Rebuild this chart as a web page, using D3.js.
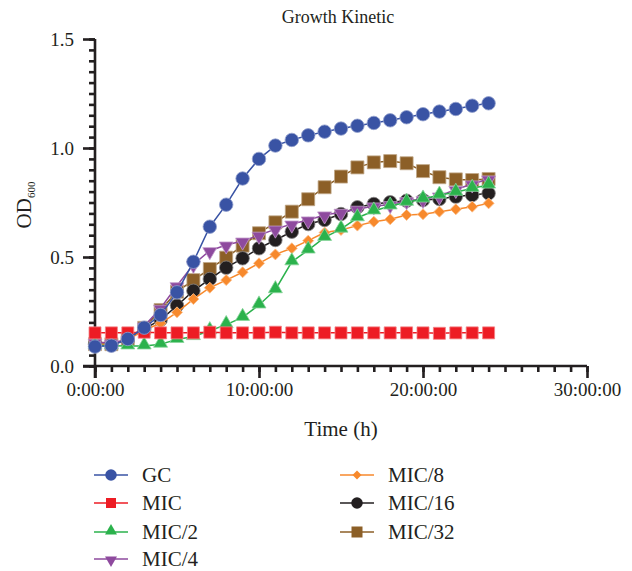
<!DOCTYPE html>
<html>
<head>
<meta charset="utf-8">
<script src="https://cdn.jsdelivr.net/npm/d3@7"></script>
<style>
  body { margin: 0; background: #fff; }
  svg text { font-family: "Liberation Serif", "DejaVu Serif", serif; fill: #231f20; }
</style>
</head>
<body>
<svg id="chart" width="632" height="571"></svg>
<script>
// hours 0..24, one reading per hour
const hours = d3.range(0, 25);

const gc     = [0.089, 0.093, 0.124, 0.176, 0.234, 0.338, 0.478, 0.639, 0.74, 0.86, 0.95, 1.011, 1.037, 1.058, 1.075, 1.089, 1.102, 1.115, 1.127, 1.141, 1.155, 1.167, 1.179, 1.194, 1.205];
const mic    = [0.152, 0.152, 0.152, 0.155, 0.152, 0.152, 0.152, 0.155, 0.152, 0.152, 0.152, 0.155, 0.152, 0.152, 0.152, 0.152, 0.152, 0.152, 0.152, 0.152, 0.152, 0.15, 0.152, 0.152, 0.152];
const mic2   = [0.095, 0.093, 0.092, 0.092, 0.1, 0.122, 0.135, 0.162, 0.19, 0.223, 0.28, 0.35, 0.478, 0.532, 0.59, 0.628, 0.68, 0.711, 0.734, 0.751, 0.766, 0.784, 0.797, 0.815, 0.83];
const mic4   = [0.11, 0.105, 0.12, 0.183, 0.265, 0.368, 0.466, 0.529, 0.555, 0.573, 0.6, 0.628, 0.651, 0.67, 0.693, 0.705, 0.719, 0.734, 0.74, 0.758, 0.764, 0.78, 0.81, 0.835, 0.858];
const mic8   = [0.1, 0.1, 0.12, 0.165, 0.196, 0.246, 0.307, 0.359, 0.394, 0.43, 0.471, 0.512, 0.54, 0.575, 0.612, 0.624, 0.644, 0.662, 0.673, 0.693, 0.696, 0.708, 0.719, 0.731, 0.746];
const mic16  = [0.1, 0.1, 0.12, 0.17, 0.211, 0.277, 0.345, 0.399, 0.451, 0.494, 0.54, 0.578, 0.616, 0.651, 0.67, 0.697, 0.728, 0.743, 0.751, 0.758, 0.761, 0.766, 0.777, 0.784, 0.792];
const mic32  = [0.1, 0.1, 0.125, 0.175, 0.257, 0.341, 0.394, 0.445, 0.497, 0.552, 0.609, 0.659, 0.708, 0.765, 0.82, 0.869, 0.911, 0.934, 0.94, 0.93, 0.894, 0.866, 0.856, 0.853, 0.858];

const seriesNames = ['GC', 'MIC', 'MIC/2', 'MIC/4', 'MIC/8', 'MIC/16', 'MIC/32'];
const seriesValues = [gc, mic, mic2, mic4, mic8, mic16, mic32];
const seriesColors = ['#3953a4', '#ed1c24', '#2bb24c', '#8e4a9e', '#f7892c', '#231f20', '#8c5f27'];
const seriesShapes = ['circle', 'square', 'triangle', 'triangleDown', 'diamond', 'circle', 'square'];
const seriesSizes = [13.5, 12, 14, 14, 11, 13.5, 13];

const xTicks = [0, 10, 20, 30];
const xTickLabels = ['0:00:00', '10:00:00', '20:00:00', '30:00:00'];
const yTicks = [0, 0.5, 1.0, 1.5];

const svg = d3.select('#chart');
const ink = '#231f20';

const x = d3.scaleLinear().domain([0, 30]).range([95, 587]);
const y = d3.scaleLinear().domain([0, 1.5]).range([366, 39]);

// marker path, s = rough pixel width
function marker(shape, s) {
  if (shape === 'circle') return d3.symbol(d3.symbolCircle, Math.PI * (s / 2) * (s / 2))();
  if (shape === 'square') return d3.symbol(d3.symbolSquare, s * s)();
  if (shape === 'diamond') return d3.symbol(d3.symbolSquare, s * s / 2)();
  // triangle, width s
  return d3.symbol(d3.symbolTriangle, 0.433 * s * s)();
}
function markerTransform(shape, px, py) {
  if (shape === 'diamond') return `translate(${px},${py}) rotate(45)`;
  if (shape === 'triangleDown') return `translate(${px},${py + 1}) rotate(180)`;
  if (shape === 'triangle') return `translate(${px},${py - 1})`;
  return `translate(${px},${py})`;
}
const halo = c => d3.interpolateRgb(c, '#fff')(0.45);

// title
svg.append('text')
  .attr('x', 338).attr('y', 23)
  .attr('text-anchor', 'middle')
  .style('font-size', '18px')
  .text('Growth Kinetic');

// axes
const yAxis = d3.axisLeft(y).tickValues(yTicks).tickFormat(d3.format('.1f')).tickSize(12).tickPadding(9);
const yMinor = d3.axisLeft(y).tickValues(d3.range(0, 1.5001, 0.05)).tickFormat('').tickSize(6);
const xAxis = d3.axisBottom(x).tickValues(xTicks).tickFormat((d, i) => xTickLabels[i]).tickSize(12).tickPadding(5);
const xMinor = d3.axisBottom(x).tickValues(d3.range(0, 31, 1)).tickFormat('').tickSize(6);

function styleAxis(g) {
  g.select('.domain').attr('stroke', ink).attr('stroke-width', 2.6);
  g.selectAll('.tick line').attr('stroke', ink).attr('stroke-width', 2.6);
  g.selectAll('.tick text').style('font-size', '19px').attr('fill', ink)
    .style('font-family', '"Liberation Serif", serif');
}

svg.append('g').attr('transform', 'translate(95,0)').call(yMinor).call(styleAxis).call(g => g.select('.domain').remove());
svg.append('g').attr('transform', 'translate(0,366)').call(xMinor).call(styleAxis).call(g => g.select('.domain').remove());
svg.append('g').attr('transform', 'translate(95,0)').call(yAxis).call(styleAxis)
  .call(g => g.select('.domain').attr('d', `M0,${y(1.5)}V${y(0) + 12}`));
svg.append('g').attr('transform', 'translate(0,366)').call(xAxis).call(styleAxis)
  .call(g => g.select('.domain').attr('d', `M${x(0) - 12},0H${x(30)}`));

// axis titles
svg.append('text')
  .attr('x', 341).attr('y', 436)
  .attr('text-anchor', 'middle')
  .style('font-size', '21px')
  .text('Time (h)');

const yTitle = svg.append('text')
  .attr('transform', 'translate(31,205) rotate(-90)')
  .attr('text-anchor', 'middle')
  .style('font-size', '21px');
yTitle.append('tspan').text('OD');
yTitle.append('tspan').attr('dy', 4).style('font-size', '11px').text('600');

// data, last series at the bottom
const line = d3.line().x((d, i) => x(hours[i])).y(d => y(d));
const order = d3.range(seriesNames.length).reverse();

order.forEach(k => {
  const g = svg.append('g');
  const shape = seriesShapes[k];
  g.append('path')
    .attr('d', line(seriesValues[k]))
    .attr('fill', 'none')
    .attr('stroke', seriesColors[k])
    .attr('stroke-width', 1.5);
  g.selectAll('path.pt')
    .data(seriesValues[k])
    .join('path')
    .attr('class', 'pt')
    .attr('d', marker(shape, seriesSizes[k]))
    .attr('transform', (d, i) => markerTransform(shape, x(hours[i]), y(d)))
    .attr('fill', seriesColors[k])
    .attr('stroke', halo(seriesColors[k]))
    .attr('stroke-width', 0.8);
});

// legend
const legendPos = [
  [94, 475], [94, 503], [94, 532], [94, 559],
  [340, 475], [340, 503], [340, 532]
];
seriesNames.forEach((name, k) => {
  const [lx, ly] = legendPos[k];
  const shape = seriesShapes[k];
  const g = svg.append('g').attr('transform', `translate(${lx},${ly})`);
  g.append('line').attr('x1', 0).attr('x2', 34).attr('y1', 0).attr('y2', 0)
    .attr('stroke', seriesColors[k]).attr('stroke-width', 1.5);
  g.append('path')
    .attr('d', marker(shape, seriesSizes[k] - 2))
    .attr('transform', markerTransform(shape, 17, 0))
    .attr('fill', seriesColors[k]);
  g.append('text')
    .attr('x', 48).attr('y', 7)
    .style('font-size', '21px')
    .text(name);
});
</script>
</body>
</html>
